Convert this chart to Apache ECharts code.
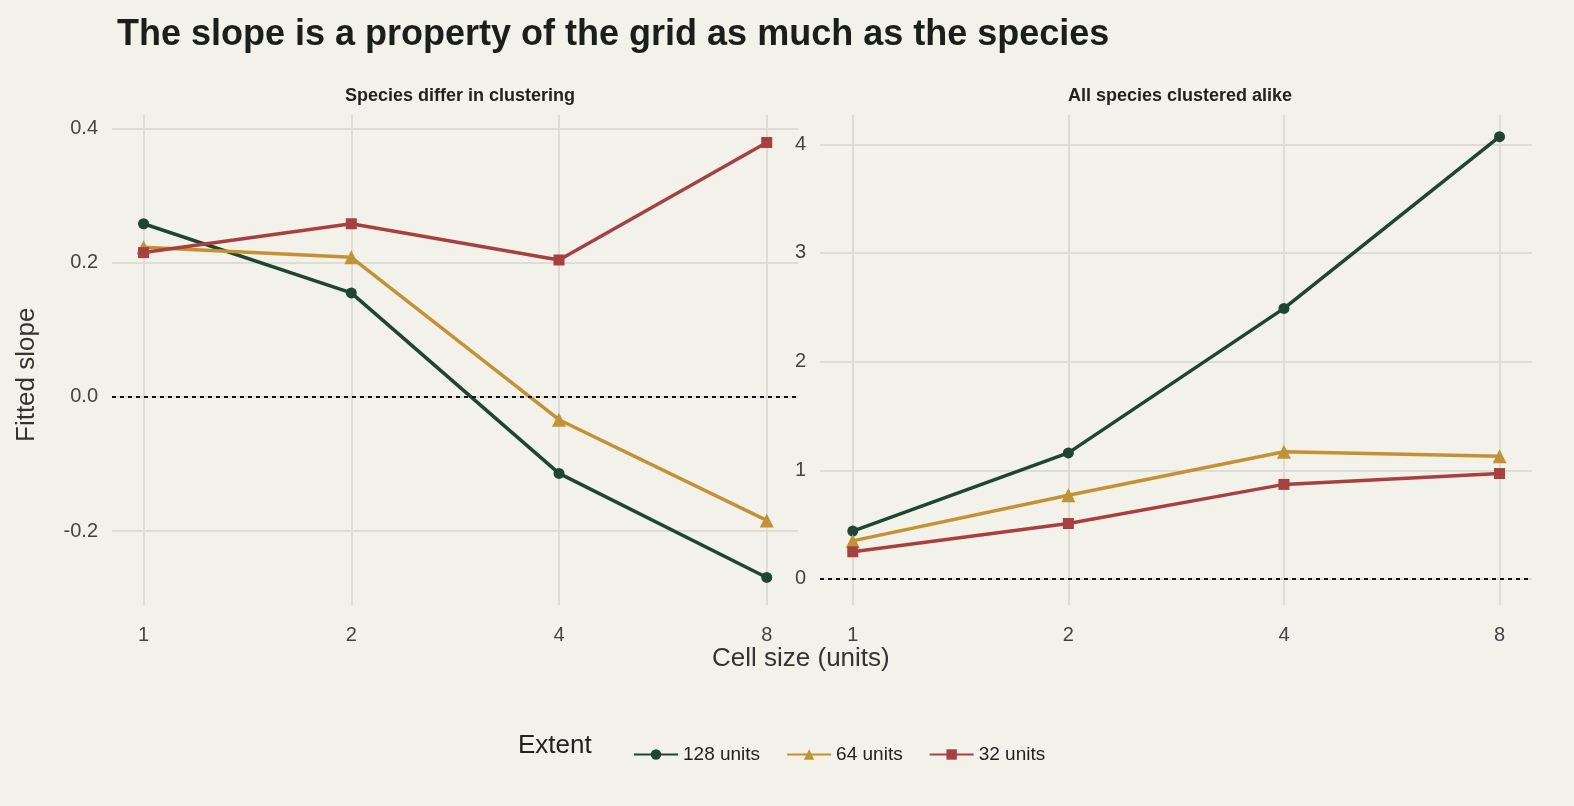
<!DOCTYPE html>
<html><head><meta charset="utf-8">
<script src="https://cdn.jsdelivr.net/npm/echarts@6/dist/echarts.min.js"></script>
<style>html,body{margin:0;background:#f2f1ea}#c{width:1574px;height:806px}</style>
</head><body><div id="c"></div>
<script>
const cellSizes = [1, 2, 4, 8];
const extents = ["128 units", "64 units", "32 units"];
const colors = ["#1f4630", "#c39233", "#a84040"];
const symbols = ["circle", "triangle", "rect"];
const leftTicks = [-0.2, 0, 0.2, 0.4];
const rightTicks = [0, 1, 2, 3, 4];
// Species differ in clustering
const leftVals = [
  [0.258, 0.155, -0.114, -0.269],
  [0.223, 0.208, -0.034, -0.184],
  [0.215, 0.258, 0.204, 0.379],
];
// All species clustered alike
const rightVals = [
  [0.44, 1.16, 2.49, 4.07],
  [0.35, 0.77, 1.17, 1.13],
  [0.25, 0.51, 0.87, 0.97],
];

const chart = echarts.init(document.getElementById("c"));
const font = "Helvetica, Arial, 'Liberation Sans', sans-serif";
const gridCol = "#dedcd3";
const xAxis = (i) => ({
  gridIndex: i, type: "log", logBase: 2, min: 0.9, max: 8.88,
  axisLine: { show: false },
  axisTick: { show: false, customValues: cellSizes },
  axisLabel: { color: "#444", fontSize: 20, fontFamily: font, margin: 20, customValues: cellSizes,
    formatter: (v) => String(Math.round(v)) },
  splitLine: { lineStyle: { color: gridCol, width: 2 } }, minorSplitLine: { show: false },
});
const yAxis = (i, min, max, ticks, fmt) => ({
  gridIndex: i, type: "value", min, max,
  axisLine: { show: false },
  axisTick: { show: false, customValues: ticks },
  axisLabel: { color: "#444", fontSize: 20, fontFamily: font, margin: 14, formatter: fmt, customValues: ticks },
  splitLine: { lineStyle: { color: gridCol, width: 2 } },
});
const series = [];
[leftVals, rightVals].forEach((vals, g) => {
  vals.forEach((v, k) => {
    series.push({
      name: extents[k], type: "line", xAxisIndex: g, yAxisIndex: g,
      data: cellSizes.map((c, j) => [c, v[j]]),
      symbol: symbols[k], symbolSize: k === 1 ? 14 : 11,
      lineStyle: { color: colors[k], width: 3.5 }, itemStyle: { color: colors[k] },
      markLine: k === 0 ? { silent: true, symbol: "none", label: { show: false },
        lineStyle: { color: "#111", type: [4, 4], width: 1.8 }, data: [{ yAxis: 0 }] } : undefined,
    });
  });
});
chart.setOption({
  backgroundColor: "#f2f1ea",
  animation: false,
  title: [
    { text: "The slope is a property of the grid as much as the species", left: 112, top: 12,
      textStyle: { fontSize: 36, fontWeight: "bold", color: "#1a1f1b", fontFamily: font } },
    { text: "Species differ in clustering", left: 455, top: 82, textAlign: "center",
      textStyle: { fontSize: 18, fontWeight: "bold", color: "#222", fontFamily: font } },
    { text: "All species clustered alike", left: 1175, top: 82, textAlign: "center",
      textStyle: { fontSize: 18, fontWeight: "bold", color: "#222", fontFamily: font } },
  ],
  grid: [
    { left: 112, width: 686, top: 115, height: 490 },
    { left: 820, width: 712, top: 115, height: 490 },
  ],
  xAxis: [xAxis(0), xAxis(1)],
  yAxis: [
    yAxis(0, -0.31, 0.42, leftTicks, (v) => (Math.abs(v) < 1e-9 ? "0.0" : v.toFixed(1))),
    yAxis(1, -0.24, 4.27, rightTicks, (v) => String(Math.round(v))),
  ],
  legend: {
    data: extents, bottom: 37, left: 628, itemWidth: 44, itemHeight: 13, itemGap: 26,
    textStyle: { fontSize: 19, color: "#222", fontFamily: font },
  },
  graphic: [
    { type: "text", left: 518, top: 733, style: { text: "Extent", fontSize: 26, fill: "#222", fontFamily: font } },
    { type: "text", left: 712, top: 646, style: { text: "Cell size (units)", fontSize: 26, fill: "#333", fontFamily: font } },
    { type: "text", x: 14, y: 442, rotation: Math.PI / 2, style: { text: "Fitted slope", fontSize: 26, fill: "#333", fontFamily: font } },
  ],
  series,
});
</script></body></html>
